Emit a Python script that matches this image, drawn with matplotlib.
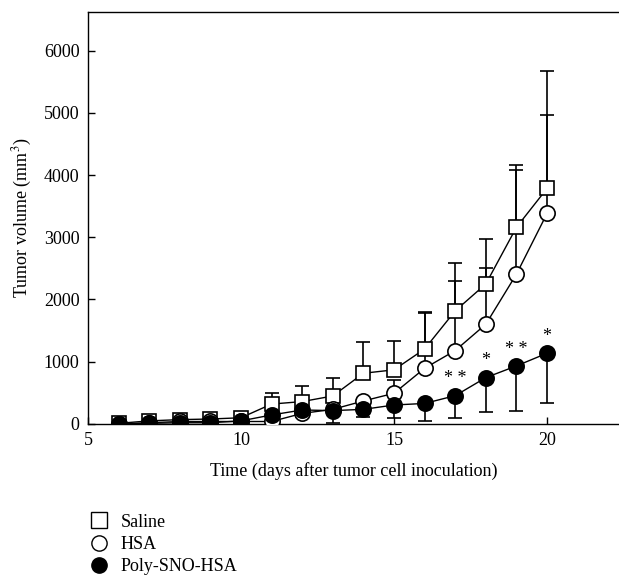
import numpy as np
import matplotlib
matplotlib.use("Agg")
import matplotlib.pyplot as plt
from matplotlib.lines import Line2D

plt.rcParams['font.family'] = ['Liberation Serif', 'DejaVu Serif']
plt.rcParams['mathtext.fontset'] = 'stix'

# days after inoculation
days = [6, 7, 8, 9, 10, 11, 12, 13, 14, 15, 16, 17, 18, 19, 20]

# mean tumor volume (mm^3)
saline = [10, 50, 70, 80, 100, 320, 360, 450, 815, 870, 1205, 1818, 2250, 3160, 3785]
hsa = [0, 20, 40, 40, 40, 40, 170, 235, 370, 493, 895, 1180, 1603, 2407, 3383]
poly = [0, 10, 20, 20, 50, 145, 225, 215, 235, 305, 330, 455, 745, 933, 1137]

# one-sided error bars (upper for saline / HSA, lower for Poly-SNO-HSA)
saline_up = [0, 0, 0, 0, 0, 185, 250, 285, 505, 470, 595, 767, 720, 995, 1883]
hsa_up = [0, 0, 0, 0, 0, 0, 0, 0, 0, 215, 885, 1110, 902, 1679, 1587]
poly_down = [0, 0, 0, 0, 0, 0, 115, 195, 117, 215, 275, 355, 545, 718, 794]

# significance marks
star_days = [17, 18, 19, 20]
star_text = ['* *', '*', '* *', '*']

fig = plt.figure(figsize=(6.19, 5.82), dpi=100)
ax = fig.add_axes([0.142, 0.2715, 0.858, 0.708])

zeros = np.zeros(len(days))
eb = dict(fmt='none', ecolor='black', elinewidth=1.2, capsize=5, capthick=1.2)
ax.errorbar(days, saline, yerr=[zeros, saline_up], zorder=1, **eb)
ax.errorbar(days, hsa, yerr=[zeros, hsa_up], zorder=1.5, **eb)
ax.errorbar(days, poly, yerr=[poly_down, zeros], zorder=2, **eb)

ax.plot(days, saline, color='black', lw=1, marker='s', ms=10.5,
        mfc='white', mec='black', mew=1.2, zorder=3)
ax.plot(days, hsa, color='black', lw=1, marker='o', ms=11,
        mfc='white', mec='black', mew=1.2, zorder=4)
ax.plot(days, poly, color='black', lw=1, marker='o', ms=11,
        mfc='black', mec='black', mew=1.2, zorder=5)

for d, t in zip(star_days, star_text):
    y = poly[days.index(d)]
    ax.annotate(t, (d, y), xytext=(0, 6), textcoords='offset points',
                ha='center', va='bottom', fontsize=13)

ax.set_xlim(5, 22.35)
ax.set_ylim(0, 6620)
ax.set_xticks([5, 10, 15, 20])
ax.set_yticks([0, 1000, 2000, 3000, 4000, 5000, 6000])
ax.tick_params(direction='in', length=5, width=1, labelsize=13, pad=6)
for s in ax.spines.values():
    s.set_linewidth(1)
ax.spines['right'].set_visible(False)

ax.set_xlabel('Time (days after tumor cell inoculation)', fontsize=13, labelpad=9)
ax.set_ylabel('Tumor volume (mm$^3$)', fontsize=13, labelpad=7)

handles = [
    Line2D([], [], ls='none', marker='s', ms=11, mfc='white', mec='black', mew=1),
    Line2D([], [], ls='none', marker='o', ms=11, mfc='white', mec='black', mew=1),
    Line2D([], [], ls='none', marker='o', ms=11, mfc='black', mec='black', mew=1),
]
fig.legend(handles, ['Saline', 'HSA', 'Poly-SNO-HSA'], loc='upper left',
           bbox_to_anchor=(0.128, 0.133), frameon=False, fontsize=13,
           handletextpad=0.6, labelspacing=0.3, borderpad=0, handlelength=1.2)

fig.savefig('out.png', dpi=100)
